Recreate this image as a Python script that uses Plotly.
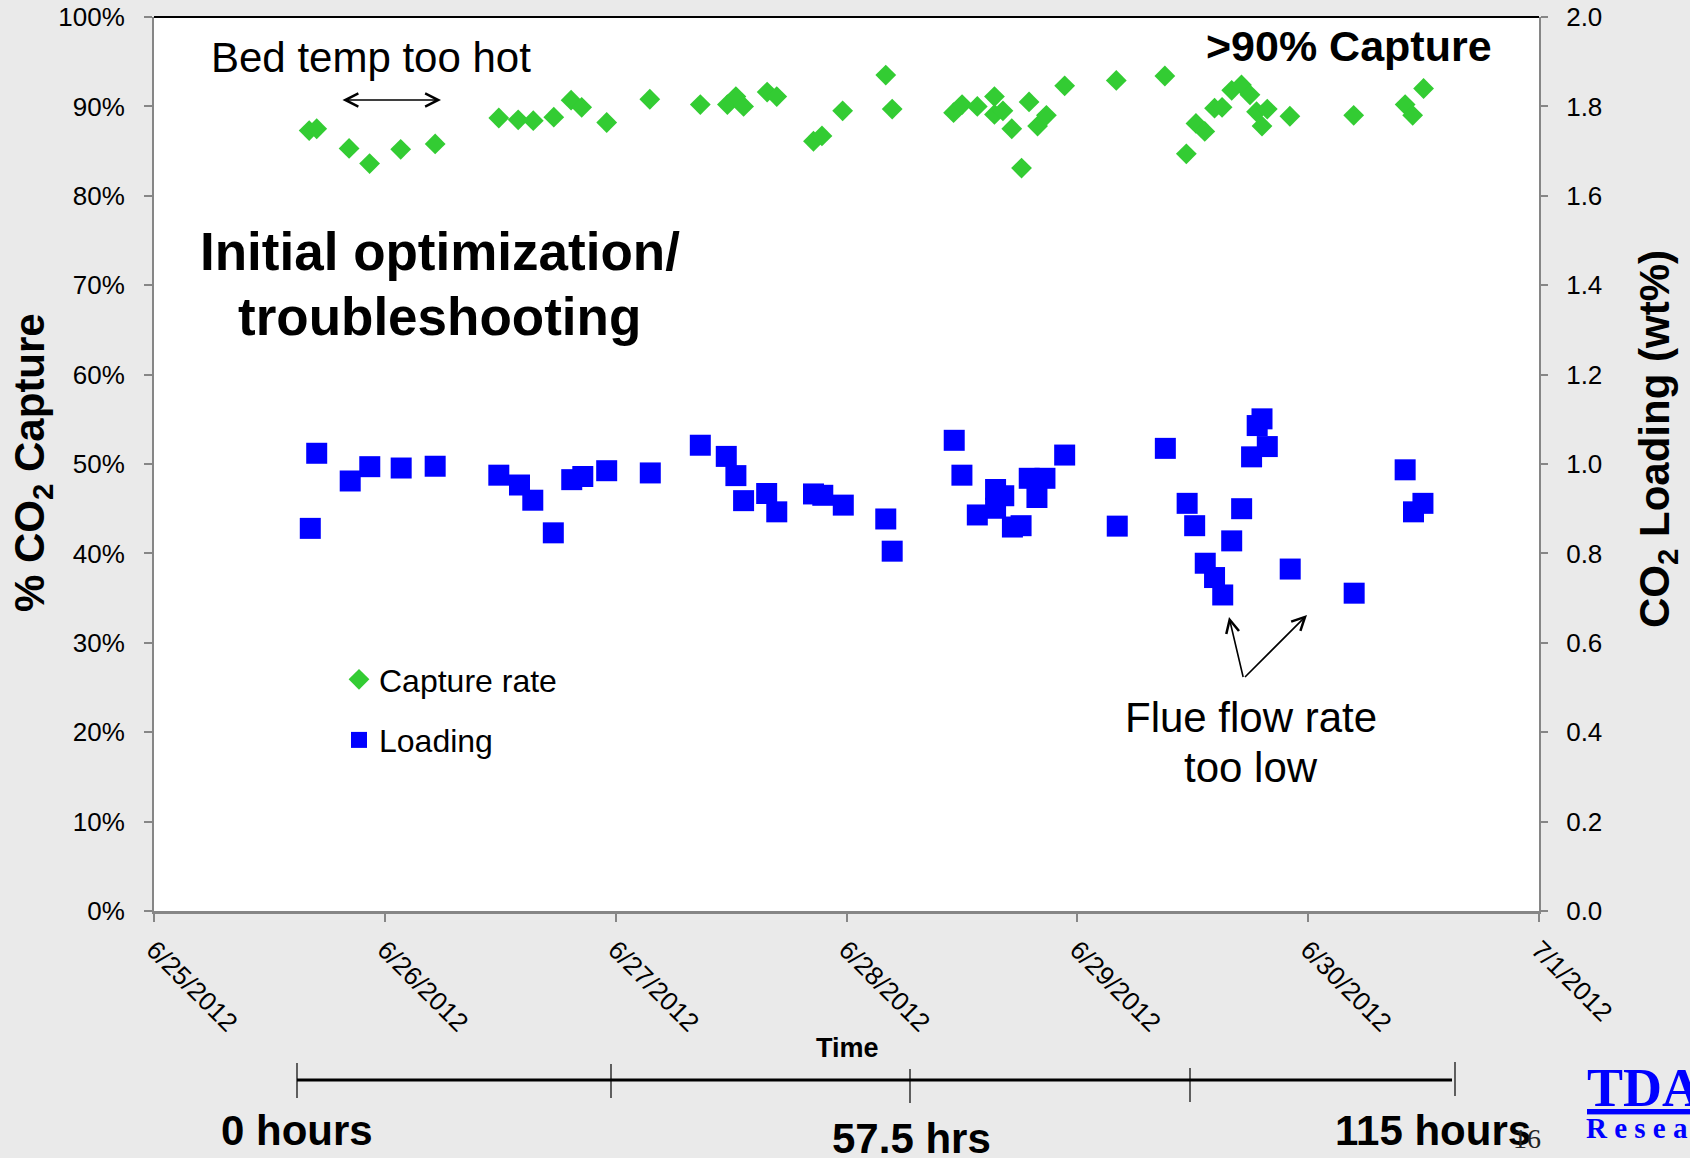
import plotly.graph_objects as go

# ---------------- data ----------------
capture_time = [
    "2012-06-25 16:08", "2012-06-25 16:55", "2012-06-25 20:17", "2012-06-25 22:25",
    "2012-06-26 01:39", "2012-06-26 05:14", "2012-06-26 11:51", "2012-06-26 13:52",
    "2012-06-26 15:26", "2012-06-26 17:34", "2012-06-26 19:22", "2012-06-26 20:28",
    "2012-06-26 23:04", "2012-06-27 03:33", "2012-06-27 08:48", "2012-06-27 11:37",
    "2012-06-27 12:30", "2012-06-27 13:18", "2012-06-27 15:45", "2012-06-27 16:45",
    "2012-06-27 20:34", "2012-06-27 21:27", "2012-06-27 23:36", "2012-06-28 04:05",
    "2012-06-28 04:45", "2012-06-28 11:08", "2012-06-28 12:01", "2012-06-28 13:36",
    "2012-06-28 15:23", "2012-06-28 15:23", "2012-06-28 16:16", "2012-06-28 17:11",
    "2012-06-28 18:12", "2012-06-28 18:59", "2012-06-28 19:52", "2012-06-28 20:47",
    "2012-06-28 22:41", "2012-06-29 04:03", "2012-06-29 09:06", "2012-06-29 11:20",
    "2012-06-29 12:20", "2012-06-29 13:15", "2012-06-29 14:16", "2012-06-29 15:03",
    "2012-06-29 16:03", "2012-06-29 17:04", "2012-06-29 17:57", "2012-06-29 18:38",
    "2012-06-29 19:12", "2012-06-29 19:45", "2012-06-29 22:06", "2012-06-30 04:44",
    "2012-06-30 10:05", "2012-06-30 10:52", "2012-06-30 12:00",
]
capture_pct = [
    87.3, 87.5, 85.3, 83.6, 85.2, 85.8, 88.7, 88.5, 88.4, 88.8, 90.7, 89.9,
    88.2, 90.8, 90.2, 90.2, 91.1, 90.0, 91.6, 91.1, 86.1, 86.7, 89.5, 93.5,
    89.7, 89.3, 90.2, 90.0, 91.1, 89.1, 89.5, 87.5, 83.1, 90.5, 87.8, 89.0,
    92.3, 92.9, 93.4, 84.7, 88.1, 87.2, 89.8, 89.9, 91.8, 92.4, 91.3, 89.4,
    87.8, 89.7, 88.9, 89.0, 90.2, 89.0, 92.0,
]

loading_time = [
    "2012-06-25 16:15", "2012-06-25 16:55", "2012-06-25 20:24", "2012-06-25 22:26",
    "2012-06-26 01:42", "2012-06-26 05:14", "2012-06-26 11:51", "2012-06-26 14:00",
    "2012-06-26 15:23", "2012-06-26 17:31", "2012-06-26 19:26", "2012-06-26 20:35",
    "2012-06-26 23:04", "2012-06-27 03:36", "2012-06-27 08:48", "2012-06-27 11:30",
    "2012-06-27 12:30", "2012-06-27 13:18", "2012-06-27 15:42", "2012-06-27 16:45",
    "2012-06-27 20:34", "2012-06-27 21:32", "2012-06-27 23:40", "2012-06-28 04:05",
    "2012-06-28 04:45", "2012-06-28 11:12", "2012-06-28 12:00", "2012-06-28 13:36",
    "2012-06-28 15:30", "2012-06-28 16:21", "2012-06-28 15:30", "2012-06-28 17:15",
    "2012-06-28 18:09", "2012-06-28 19:00", "2012-06-28 19:48", "2012-06-28 20:38",
    "2012-06-28 22:41", "2012-06-29 04:09", "2012-06-29 09:09", "2012-06-29 11:25",
    "2012-06-29 12:12", "2012-06-29 13:18", "2012-06-29 14:16", "2012-06-29 15:07",
    "2012-06-29 16:03", "2012-06-29 17:05", "2012-06-29 18:07", "2012-06-29 18:42",
    "2012-06-29 19:12", "2012-06-29 19:45", "2012-06-29 22:08", "2012-06-30 04:47",
    "2012-06-30 10:05", "2012-06-30 10:57", "2012-06-30 11:56",
]
loading_wt = [
    0.856, 1.024, 0.962, 0.994, 0.991, 0.995, 0.975, 0.953, 0.919, 0.846, 0.965, 0.972,
    0.985, 0.980, 1.042, 1.017, 0.974, 0.918, 0.934, 0.893, 0.933, 0.930, 0.908, 0.877,
    0.805, 1.053, 0.975, 0.886, 0.943, 0.929, 0.901, 0.859, 0.862, 0.968, 0.925, 0.968,
    1.020, 0.861, 1.035, 0.912, 0.862, 0.778, 0.746, 0.707, 0.828, 0.900, 1.016, 1.086,
    1.101, 1.039, 0.765, 0.711, 0.987, 0.893, 0.912,
]

x_range = ["2012-06-25", "2012-07-01"]
left_ticks = list(range(0, 101, 10))
left_labels = [f"{v}%" for v in left_ticks]
right_ticks = [round(i * 0.2, 1) for i in range(11)]
right_labels = [f"{v:.1f}" for v in right_ticks]

hour_labels = ["0 hours", "57.5 hrs", "115 hours"]

# ---------------- figure ----------------
FONT = "Liberation Sans, Arial, sans-serif"
SERIF = "Liberation Serif, Times New Roman, serif"
W, H = 1690, 1158
L, R, T, B = 154, 151, 17, 247
PW, PH = W - L - R, H - T - B


def px(x):
    return (x - L) / PW


def py(y):
    return (H - B - y) / PH


fig = go.Figure()
fig.add_trace(go.Scatter(
    x=capture_time, y=capture_pct, mode="markers", name="Capture rate",
    marker=dict(symbol="diamond", size=16, color="#33CC33", line=dict(width=0)),
    legendgroup="a", yaxis="y",
))
fig.add_trace(go.Scatter(
    x=loading_time, y=loading_wt, mode="markers", name="Loading",
    marker=dict(symbol="square", size=21, color="#0000FF", line=dict(width=0)),
    legendgroup="b", yaxis="y2",
))

axis_grey = "#868686"
fig.update_layout(
    width=W, height=H,
    margin=dict(l=L, r=R, t=T, b=B, pad=0, autoexpand=False),
    paper_bgcolor="#EAEAEA", plot_bgcolor="#FFFFFF",
    font=dict(family=FONT, color="#000000", size=26),
    showlegend=True,
    legend=dict(
        x=px(339), y=py(652), xanchor="left", yanchor="top",
        bgcolor="rgba(0,0,0,0)", font=dict(size=32, family=FONT),
        tracegroupgap=16, traceorder="grouped", itemsizing="trace",
    ),
    xaxis=dict(
        type="date", range=x_range, dtick=86400000, tick0="2012-06-25",
        tickformat="%-m/%-d/%Y", tickangle=45, automargin=False,
        showgrid=False, zeroline=False,
        showline=True, linecolor=axis_grey, linewidth=3,
        ticks="outside", ticklen=8, tickwidth=1.5, tickcolor=axis_grey,
        tickfont=dict(size=26, family=FONT), ticklabelstandoff=2,
    ),
    yaxis=dict(
        range=[0, 100], tickvals=left_ticks, ticktext=left_labels, automargin=False,
        showgrid=False, zeroline=False,
        showline=True, linecolor=axis_grey, linewidth=2,
        ticks="outside", ticklen=8, tickwidth=1.5, tickcolor=axis_grey,
        tickfont=dict(size=26, family=FONT), ticklabelstandoff=14,
    ),
    yaxis2=dict(
        range=[0, 2.0], tickvals=right_ticks, ticktext=right_labels,
        overlaying="y", side="right", automargin=False,
        showgrid=False, zeroline=False,
        showline=True, linecolor=axis_grey, linewidth=2,
        ticks="outside", ticklen=7, tickwidth=1.5, tickcolor=axis_grey,
        tickfont=dict(size=26, family=FONT), ticklabelstandoff=13,
    ),
)

# top border of plot area
fig.add_shape(type="line", xref="paper", yref="paper", x0=0, x1=1, y0=1, y1=1,
              line=dict(color="#000000", width=2))

# timeline below the chart
fig.add_shape(type="line", xref="paper", yref="paper",
              x0=px(297), x1=px(1452), y0=py(1080), y1=py(1080),
              line=dict(color="#000000", width=3))
for tx, ty0, ty1 in [(297, 1063, 1098), (611, 1064, 1098), (910, 1069, 1103),
                     (1190, 1068, 1102), (1455, 1062, 1096)]:
    fig.add_shape(type="line", xref="paper", yref="paper",
                  x0=px(tx), x1=px(tx), y0=py(ty0), y1=py(ty1),
                  line=dict(color="#000000", width=1.2))

ann = []


def text(x, y, s, size, bold=False, fam=FONT, color="#000000", xanchor="center", angle=0):
    ann.append(dict(
        x=px(x), y=py(y), xref="paper", yref="paper", showarrow=False,
        text=f"<b>{s}</b>" if bold else s, xanchor=xanchor, yanchor="middle",
        textangle=angle, font=dict(size=size, family=fam, color=color),
    ))


text(371, 57, "Bed temp too hot", 42)
text(440, 252, "Initial optimization/", 53, bold=True)
text(439, 317, "troubleshooting", 53, bold=True)
text(1349, 46, "&gt;90% Capture", 43, bold=True)
text(1251, 717, "Flue flow rate", 42)
text(1251, 767, "too low", 42)
text(847, 1048, "Time", 27, bold=True)
text(32, 463, "% CO<sub>2</sub> Capture", 42, bold=True, angle=-90)
text(1657, 439, "CO<sub>2</sub> Loading (wt%)", 42, bold=True, angle=-90)
text(297, 1130, hour_labels[0], 42, bold=True)
text(911, 1138, hour_labels[1], 42, bold=True)
text(1433, 1130, hour_labels[2], 42, bold=True)
text(1527, 1138, "16", 28, fam=SERIF, color="#222222")
text(1585, 1088, "<u>TDA</u>", 54, bold=True, fam=SERIF, color="#0000FF", xanchor="left")
text(1584, 1128, "R e s e a r c h", 29, bold=True, fam=SERIF, color="#0000FF", xanchor="left")

# arrows
ann.append(dict(x=px(441), y=py(100), xref="paper", yref="paper", ax=-100, ay=0,
                showarrow=True, arrowside="end+start", arrowhead=5, startarrowhead=5,
                arrowsize=1.6, startarrowsize=1.6, arrowwidth=1.6, arrowcolor="#000000", text=""))
ann.append(dict(x=px(1229), y=py(617), xref="paper", yref="paper", ax=14.5, ay=61.5,
                showarrow=True, arrowhead=5, arrowsize=1.6, arrowwidth=1.6,
                arrowcolor="#000000", text=""))
ann.append(dict(x=px(1307), y=py(615), xref="paper", yref="paper", ax=-63.5, ay=63.5,
                showarrow=True, arrowhead=5, arrowsize=1.6, arrowwidth=1.6,
                arrowcolor="#000000", text=""))

fig.update_layout(annotations=ann)
fig.write_html("out.html")
